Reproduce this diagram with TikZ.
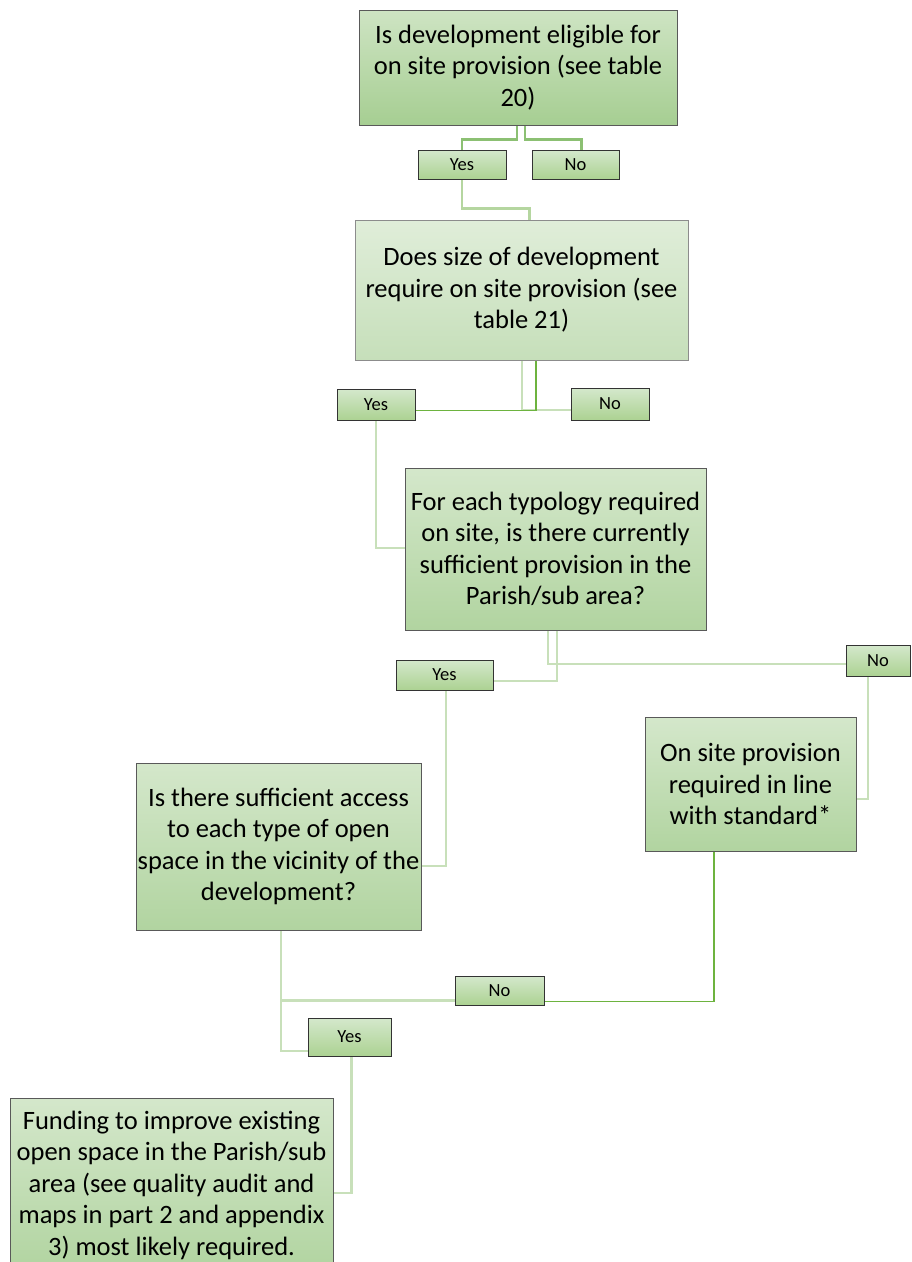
\documentclass[tikz,border=0pt]{standalone}
\usepackage{fontspec}
\setmainfont{Carlito}
\usetikzlibrary{calc,backgrounds}
\definecolor{paleline}{HTML}{C8E0BA}
\definecolor{lightline}{HTML}{B5D6A0}
\definecolor{midline}{HTML}{8CC073}
\definecolor{greenline}{HTML}{6DB33F}
\definecolor{smalltop}{HTML}{D4E8CC}
\definecolor{smallbot}{HTML}{ACD292}
\definecolor{box1c}{HTML}{A6CE92}
\definecolor{box2c}{HTML}{C6DFBA}
\definecolor{box3c}{HTML}{B1D4A0}
\tikzset{
  bigbox/.style={draw=black!65, line width=0.8pt, top color=#1!55!white, bottom color=#1,
    align=center, inner sep=0pt, font=\fontsize{26.5}{31.5}\selectfont},
  bigbox/.default={box3c},
  smallbox/.style={draw=black!80, line width=0.9pt, top color=smalltop, bottom color=smallbot,
    inner sep=0pt, font=\fontsize{18.5}{22}\selectfont},
  paleconn/.style={draw=paleline, line width=2.6pt},
  lightconn/.style={draw=lightline, line width=2.6pt},
  midconn/.style={draw=midline, line width=2.4pt},
  greenconn/.style={draw=greenline, line width=1.3pt},
}
\begin{document}
\begin{tikzpicture}[x=1pt,y=-1pt]
\path[use as bounding box] (0,0) rectangle (912,1262);
\clip (0,0) rectangle (912,1262);

\node[bigbox=box1c, minimum width=318pt, minimum height=115pt] (b1) at (518,67.5)
  {Is development eligible for\\on site provision (see table\\20)};
\node[smallbox, minimum width=88pt, minimum height=29pt] (y1) at (462,164.5) {Yes};
\node[smallbox, minimum width=87pt, minimum height=29pt] (n1) at (575.5,164.5) {No};

\node[bigbox=box2c, draw=black!45, minimum width=333pt, minimum height=140pt] (b2) at (521.5,290)
  {Does size of development\\require on site provision (see\\table 21)};
\node[smallbox, minimum width=78pt, minimum height=31pt] (y2) at (376,404.5) {Yes};
\node[smallbox, minimum width=78pt, minimum height=32pt] (n2) at (610,404) {No};

\node[bigbox, minimum width=301pt, minimum height=162pt] (b3) at (555.5,549)
  {For each typology required\\on site, is there currently\\sufficient provision in the\\Parish/sub area?};
\node[smallbox, minimum width=64pt, minimum height=31pt] (n3) at (878,660.5) {No};
\node[smallbox, minimum width=97pt, minimum height=30pt] (y3) at (444.5,675) {Yes};

\node[bigbox, minimum width=211pt, minimum height=134pt] (b5) at (750.5,784)
  {On site provision\\required in line\\with standard*};
\node[bigbox, minimum width=285pt, minimum height=167pt] (b4) at (278.5,846.5)
  {Is there sufficient access\\to each type of open\\space in the vicinity of the\\development?};
\node[smallbox, minimum width=89pt, minimum height=29pt] (n4) at (499.5,990.5) {No};
\node[smallbox, minimum width=83pt, minimum height=38pt] (y4) at (349.5,1037) {Yes};

\node[bigbox, minimum width=323pt, minimum height=174pt] (b6) at (171.5,1185)
  {Funding to improve existing\\open space in the Parish/sub\\area (see quality audit and\\maps in part 2 and appendix\\3) most likely required.};

\begin{scope}[on background layer]
\draw[midconn] ($(b1.south)+(-1,0)$) -- ++(0,14) -| (y1.north);
\draw[midconn] ($(b1.south)+(7,0)$) -- ++(0,14) -| ($(n1.north)+(6,0)$);
\draw[lightconn] (y1.south) -- ++(0,29) -| ($(b2.north)+(8,0)$);
\draw[paleconn] ($(b2.south)+(0.5,0)$) |- ($(n2.west)+(8,6)$);
\draw[greenconn] ($(b2.south)+(14.5,0)$) |- ($(y2.east)+(0,6)$);
\draw[paleconn] (y2.south) |- ($(b3.west)+(0,-1)$);
\draw[paleconn] ($(b3.south)+(-7.5,0)$) |- ($(n3.west)+(10,3.5)$);
\draw[paleconn] ($(b3.south)+(1.5,0)$) |- ($(y3.east)+(0,6)$);
\draw[paleconn] ($(y3.south)+(1.5,0)$) |- ($(b4.east)+(0,19.5)$);
\draw[paleconn] ($(n3.south)+(-10,0)$) |- ($(b5.east)+(0,15)$);
\draw[paleconn] ($(b4.south)+(2.5,0)$) |- ($(n4.west)+(25,10)$);
\draw[paleconn] ($(b4.south)+(2.5,0)$) |- ($(y4.west)+(5,14)$);
\draw[greenconn] ($(n4.east)+(-3,11)$) -| ($(b5.south)+(-36.5,0)$);
\draw[paleconn] ($(y4.south)+(2,0)$) |- ($(b6.east)+(0,8)$);
\end{scope}
\end{tikzpicture}
\end{document}
